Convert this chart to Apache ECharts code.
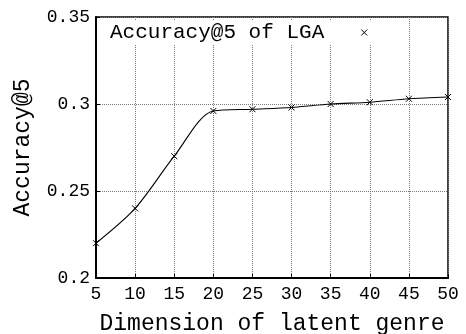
<!DOCTYPE html>
<html><head><meta charset="utf-8">
<script src="https://cdn.jsdelivr.net/npm/echarts@6/dist/echarts.min.js"></script>
<style>html,body{margin:0;padding:0;background:#fff}#c{width:466px;height:334px}</style>
</head><body><div id="c"></div>
<script>
var dims = [5, 10, 15, 20, 25, 30, 35, 40, 45, 50];
var acc = [0.220, 0.240, 0.270, 0.296, 0.297, 0.298, 0.300, 0.301, 0.303, 0.304];
var seriesName = 'Accuracy@5 of LGA';
var xTitle = 'Dimension of latent genre';
var yTitle = 'Accuracy@5';
var FONT = '"Liberation Mono", "DejaVu Sans Mono", monospace';
var crossPath = 'path://M0,0L10,10M10,0L0,10';
var chart = echarts.init(document.getElementById('c'));
chart.setOption({
  animation: false,
  backgroundColor: '#fff',
  grid: {left: 96, right: 18, top: 17, bottom: 56, containLabel: false, outerBoundsMode: 'none',
    show: true, borderColor: '#000', borderWidth: 1.5, backgroundColor: 'transparent'},
  legend: {
    left: 104, top: 21, padding: [1, 6, 1, 6], backgroundColor: '#fff',
    align: 'right', icon: crossPath, itemWidth: 6, itemHeight: 6,
    itemStyle: {color: 'transparent', borderColor: '#000', borderWidth: 1},
    textStyle: {fontFamily: FONT, fontSize: 21, color: '#000', padding: [0, 32, 0, 0]},
    data: [seriesName]
  },
  xAxis: {
    type: 'value', min: 5, max: 50, interval: 5,
    name: xTitle, nameLocation: 'middle', nameGap: 34,
    nameTextStyle: {fontFamily: FONT, fontSize: 23, color: '#000'},
    axisLine: {show: true, lineStyle: {color: '#000', width: 2}},
    axisTick: {show: true, inside: true, length: 4, lineStyle: {color: '#000'}},
    axisLabel: {fontFamily: FONT, fontSize: 18, color: '#000', margin: 7},
    splitLine: {show: true, lineStyle: {type: 'dotted', color: '#777', width: 1}}
  },
  yAxis: {
    type: 'value', min: 0.2, max: 0.35, interval: 0.05,
    name: yTitle, nameLocation: 'middle', nameGap: 62,
    nameTextStyle: {fontFamily: FONT, fontSize: 23, color: '#000'},
    axisLine: {show: true, lineStyle: {color: '#000', width: 2}},
    axisTick: {show: true, inside: true, length: 4, lineStyle: {color: '#000'}},
    axisLabel: {fontFamily: FONT, fontSize: 18, color: '#000', margin: 6,
      formatter: function (v) { return String(parseFloat(v.toFixed(2))); }},
    splitLine: {show: true, lineStyle: {type: 'dotted', color: '#777', width: 1}}
  },
  series: [{
    name: seriesName, type: 'line', smooth: 0.3,
    data: dims.map(function (d, i) { return [d, acc[i]]; }),
    symbol: crossPath, symbolSize: 6, showSymbol: true,
    lineStyle: {color: '#000', width: 1.1},
    itemStyle: {color: 'transparent', borderColor: '#000', borderWidth: 1}
  }]
});
</script></body></html>
